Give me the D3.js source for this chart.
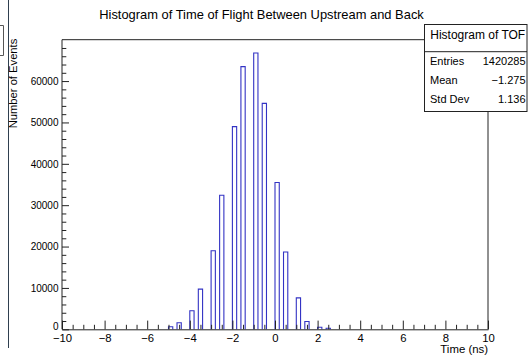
<!DOCTYPE html>
<html>
<head>
<meta charset="utf-8">
<script src="https://cdn.jsdelivr.net/npm/d3@7"></script>
<style>
  html, body { margin: 0; padding: 0; background: #fff; }
  svg { display: block; }
  text { font-family: "Liberation Sans", Arial, Helvetica, sans-serif; fill: #000; }
</style>
</head>
<body>
<svg id="chart" width="528" height="356"></svg>
<script>
// Time-of-flight histogram: 100 bins of 0.2 ns between -10 and 10 ns.
// Only the filled bins are listed (lower edge of each bin and its count).
const binWidth = 0.2;
const binLow = [-5.0, -4.6, -4.0, -3.6, -3.0, -2.6, -2.0, -1.6, -1.0, -0.6, 0.0, 0.4, 1.0, 1.4, 2.0, 2.4];
const counts = [600, 1600, 4500, 9700, 19000, 32400, 49000, 63500, 66800, 54600, 35500, 18700, 7600, 1900, 480, 250];

const xMajorTicks = [-10, -8, -6, -4, -2, 0, 2, 4, 6, 8, 10];
const yMajorTicks = [0, 10000, 20000, 30000, 40000, 50000, 60000];

const chartTitle = "Histogram of Time of Flight Between Upstream and Back";
const xTitle = "Time (ns)";
const yTitle = "Number of Events";

const statsTitle = "Histogram of TOF";
const statsLabels = ["Entries", "Mean", "Std Dev"];
const statsValues = ["1420285", "\u22121.275", "1.136"];

const svg = d3.select("#chart");

const frame = { left: 62, right: 488, top: 39.7, bottom: 329.3 };

const x = d3.scaleLinear().domain([-10, 10]).range([frame.left, frame.right]);
const y = d3.scaleLinear().domain([0, 70000]).range([frame.bottom, frame.top]);

const fmtMinus = v => (v < 0 ? "\u2212" + Math.abs(v) : String(v));

// window edge decorations on the left
svg.append("line").attr("x1", 8.5).attr("x2", 8.5).attr("y1", 0).attr("y2", 348)
  .attr("stroke", "#2f3f4f").attr("stroke-width", 1);
svg.append("path").attr("d", "M0,25.5 H3.5 V55.5 H0")
  .attr("fill", "none").attr("stroke", "#555").attr("stroke-width", 1);

// histogram outline, one open rectangle per filled bin
const g = svg.append("g");
g.selectAll("path.bin")
  .data(binLow.map((lo, i) => ({ lo, n: counts[i] })))
  .join("path")
  .attr("class", "bin")
  .attr("fill", "none")
  .attr("stroke", "#3333c4")
  .attr("stroke-width", 1.1)
  .attr("d", d => {
    const x0 = x(d.lo), x1 = x(d.lo + binWidth);
    return `M${x0},${y(0)} V${y(d.n)} H${x1} V${y(0)}`;
  });

// frame (top and right edges)
svg.append("path")
  .attr("d", `M${frame.left},${frame.top} H${frame.right} V${frame.bottom}`)
  .attr("fill", "none").attr("stroke", "#222").attr("stroke-width", 1);

// x axis
const xMinor = d3.range(-10, 10.001, 0.5).filter(v => Math.abs(v / 2 - Math.round(v / 2)) > 1e-6);
svg.append("g").attr("transform", `translate(0,${frame.bottom})`)
  .call(d3.axisBottom(x).tickValues(xMinor).tickSize(-4.5).tickSizeOuter(0).tickFormat(""))
  .call(a => a.select(".domain").remove());
const xAxis = svg.append("g").attr("transform", `translate(0,${frame.bottom})`)
  .call(d3.axisBottom(x).tickValues(xMajorTicks).tickSize(-8.7).tickSizeOuter(0)
    .tickPadding(4.5).tickFormat(fmtMinus));
xAxis.selectAll("text").attr("font-size", 11.3);
xAxis.attr("font-family", null);

// y axis
const yMinor = d3.range(0, 70001, 2000).filter(v => v % 10000 !== 0);
svg.append("g").attr("transform", `translate(${frame.left},0)`)
  .call(d3.axisLeft(y).tickValues(yMinor).tickSize(-4.3).tickSizeOuter(0).tickFormat(""))
  .call(a => a.select(".domain").remove());
const yAxis = svg.append("g").attr("transform", `translate(${frame.left},0)`)
  .call(d3.axisLeft(y).tickValues(yMajorTicks).tickSize(-7).tickSizeOuter(0)
    .tickPadding(3.5).tickFormat(d3.format("d")));
yAxis.selectAll("text").attr("font-size", 10);
// the zero label sits just above the first x label
yAxis.selectAll(".tick").filter(d => d === 0).select("text").attr("dy", "0.05em");
yAxis.attr("font-family", null);
yAxis.select(".domain").attr("d", `M0,${frame.bottom} V${frame.top}`);

svg.selectAll(".domain, .tick line").attr("stroke", "#222");

// titles
svg.append("text").attr("x", 261.5).attr("y", 19.3).attr("text-anchor", "middle")
  .attr("font-size", 12.9).text(chartTitle);
svg.append("text").attr("x", frame.right).attr("y", 353).attr("text-anchor", "end")
  .attr("font-size", 11.4).text(xTitle);
svg.append("text").attr("transform", `translate(17.3,${frame.top - 1}) rotate(-90)`)
  .attr("text-anchor", "end").attr("font-size", 11.2).text(yTitle);

// statistics box
const box = { x: 424.5, y: 24.5, w: 102.5, h: 87, titleH: 27.2 };
const stats = svg.append("g");
stats.append("rect").attr("x", box.x).attr("y", box.y).attr("width", box.w).attr("height", box.h)
  .attr("fill", "#fff").attr("stroke", "#222").attr("stroke-width", 1);
stats.append("line").attr("x1", box.x).attr("x2", box.x + box.w)
  .attr("y1", box.y + box.titleH).attr("y2", box.y + box.titleH)
  .attr("stroke", "#222").attr("stroke-width", 1);
stats.append("text").attr("x", box.x + box.w / 2 + 2).attr("y", 39.3)
  .attr("text-anchor", "middle").attr("font-size", 12).text(statsTitle);
const rowY = [64.5, 84, 103];
statsLabels.forEach((lab, i) => {
  stats.append("text").attr("x", 430).attr("y", rowY[i]).attr("font-size", 11).text(lab);
  stats.append("text").attr("x", 525.5).attr("y", rowY[i]).attr("text-anchor", "end")
    .attr("font-size", 11).text(statsValues[i]);
});
</script>
</body>
</html>
